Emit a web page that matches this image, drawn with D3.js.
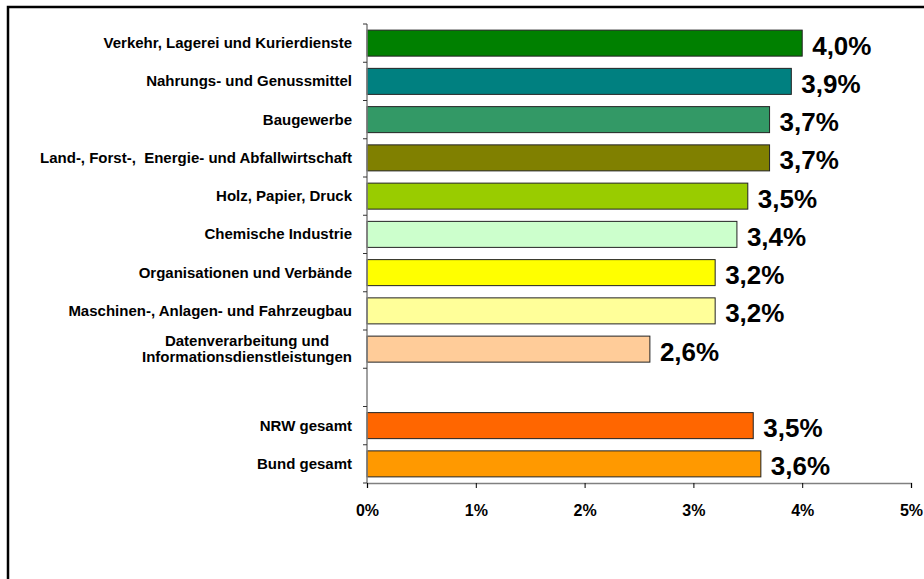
<!DOCTYPE html>
<html>
<head>
<meta charset="utf-8">
<script src="https://cdn.jsdelivr.net/npm/d3@7"></script>
<style>
  html, body { margin: 0; padding: 0; background: #fff; }
  svg { display: block; font-family: "Liberation Sans", Arial, sans-serif; }
</style>
</head>
<body>
<svg id="chart" width="924" height="579"></svg>
<script>
// ---- data ----
const categories = [
  "Verkehr, Lagerei und Kurierdienste",
  "Nahrungs- und Genussmittel",
  "Baugewerbe",
  "Land-, Forst-,  Energie- und Abfallwirtschaft",
  "Holz, Papier, Druck",
  "Chemische Industrie",
  "Organisationen und Verbände",
  "Maschinen-, Anlagen- und Fahrzeugbau",
  "Datenverarbeitung und\nInformationsdienstleistungen",
  "",
  "NRW gesamt",
  "Bund gesamt"
];
const values = [4.0, 3.9, 3.7, 3.7, 3.5, 3.4, 3.2, 3.2, 2.6, null, 3.55, 3.62];
const valueLabels = ["4,0%", "3,9%", "3,7%", "3,7%", "3,5%", "3,4%", "3,2%", "3,2%", "2,6%", "", "3,5%", "3,6%"];
const colors = ["#008000", "#008080", "#339966", "#808000", "#99CC00", "#CCFFCC", "#FFFF00", "#FFFF99", "#FFCC99", "none", "#FF6600", "#FF9900"];
const xTicks = [0, 1, 2, 3, 4, 5];
const xTickLabels = ["0%", "1%", "2%", "3%", "4%", "5%"];

(function () {
// ---- layout ----
const svg = d3.select("#chart");
const pLeft = 367, pRight = 911, pTop = 24, pBottom = 483;

const x = d3.scaleLinear().domain([0, 5]).range([pLeft, pRight]);
const y = d3.scaleBand().domain(d3.range(categories.length)).range([pTop, pBottom])
  .paddingInner(0.32).paddingOuter(0.16);

// frame
svg.append("rect").attr("x", 8).attr("y", 7).attr("width", 1000).attr("height", 1000)
  .attr("fill", "none").attr("stroke", "#000").attr("stroke-width", 2.5);

// bars
const idx = d3.range(categories.length).filter(i => values[i] != null);
svg.selectAll("rect.bar").data(idx).enter().append("rect")
  .attr("class", "bar")
  .attr("x", x(0))
  .attr("y", i => y(i))
  .attr("width", i => x(values[i]) - x(0))
  .attr("height", y.bandwidth())
  .attr("fill", i => colors[i])
  .attr("stroke", "#222")
  .attr("stroke-width", 1);

// value labels
svg.selectAll("text.val").data(idx).enter().append("text")
  .attr("class", "val")
  .attr("x", i => x(values[i]) + 10)
  .attr("y", i => y(i) + y.bandwidth() / 2 + 11.5)
  .attr("font-size", 26).attr("font-weight", "bold").attr("fill", "#000")
  .text(i => valueLabels[i]);

// y axis line and ticks
const step = y.step();
const boundaries = d3.range(categories.length + 1).map(k => pTop + k * step);
svg.append("line").attr("x1", pLeft).attr("x2", pLeft).attr("y1", pTop).attr("y2", pBottom)
  .attr("stroke", "#808080").attr("stroke-width", 1.5);
svg.selectAll("line.ytick").data(boundaries).enter().append("line")
  .attr("x1", pLeft - 4).attr("x2", pLeft).attr("y1", d => d).attr("y2", d => d)
  .attr("stroke", "#333").attr("stroke-width", 1);

// x axis
const xAxis = d3.axisBottom(x).tickValues(xTicks).tickSize(5).tickFormat((d, i) => xTickLabels[i]);
const gx = svg.append("g").attr("transform", `translate(0,${pBottom})`).call(xAxis);
gx.select(".domain").attr("stroke", "#808080").attr("stroke-width", 1.5);
gx.selectAll(".tick line").attr("stroke", "#000");
gx.selectAll(".tick text").attr("font-size", 16).attr("font-weight", "bold")
  .attr("font-family", "Liberation Sans, Arial, sans-serif").attr("fill", "#000")
  .attr("dy", null).attr("y", 33);

// category labels
const labelRight = 352;
categories.forEach((c, i) => {
  if (!c) return;
  const lines = c.split("\n");
  const cy = y(i) + y.bandwidth() / 2;
  const lh = 16.7;
  const t = svg.append("text")
    .attr("font-size", 15).attr("font-weight", "bold").attr("fill", "#000")
    .style("white-space", "pre");
  if (lines.length === 1) {
    t.attr("text-anchor", "end").attr("x", labelRight).attr("y", cy + 5).text(c);
  } else {
    t.attr("text-anchor", "middle");
    lines.forEach((ln, k) => {
      t.append("tspan").attr("x", 0)
        .attr("y", cy + 5 + (k - (lines.length - 1) / 2) * lh).text(ln);
    });
    const w = d3.max(t.selectAll("tspan").nodes(), n => n.getComputedTextLength());
    t.selectAll("tspan").attr("x", labelRight - w / 2);
  }
});
})();
</script>
</body>
</html>
